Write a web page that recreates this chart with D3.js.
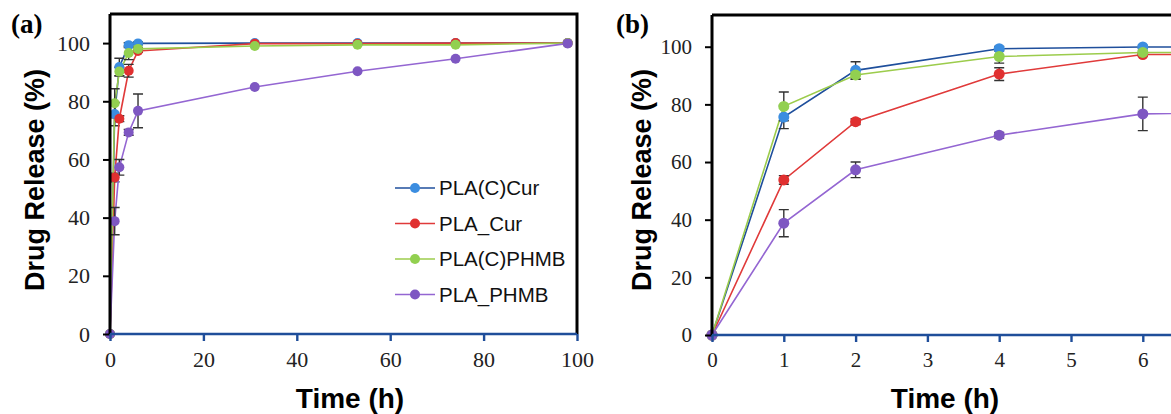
<!DOCTYPE html>
<html>
<head>
<meta charset="utf-8">
<script src="https://cdn.jsdelivr.net/npm/d3@7"></script>
<style>
  body { margin: 0; background: #fff; }
  svg { display: block; }
</style>
</head>
<body>
<div id="chart"></div>
<script>
// data
const times = [0, 1, 2, 4, 6, 31, 53, 74, 98]
const seriesNames = ["PLA(C)Cur", "PLA_Cur", "PLA(C)PHMB", "PLA_PHMB"]
const cCurValues = [0, 75.6, 91.8, 99.3, 99.9, 100, 100, 100, 100]
const curValues = [0, 53.8, 74.0, 90.5, 97.3, 99.8, 99.8, 100, 100]
const cPhmbValues = [0, 79.3, 90.2, 96.6, 98.0, 99.0, 99.4, 99.4, 100]
const phmbValues = [0, 38.8, 57.3, 69.3, 76.7, 84.9, 90.3, 94.6, 99.9]
const cCurErr = [0, 4.0, 3.0, 0.8, 0.5, 0, 0, 0, 0]
const curErr = [0, 1.5, 1.0, 2.2, 0.5, 0, 0, 0, 0]
const cPhmbErr = [0, 5.0, 1.5, 2.3, 0.5, 0, 0, 0, 0]
const phmbErr = [0, 4.7, 2.7, 1.0, 5.8, 0, 0, 0, 0]
const yTicks = [0, 20, 40, 60, 80, 100]
const xTicksA = [0, 20, 40, 60, 80, 100]
const xTicksB = [0, 1, 2, 3, 4, 5, 6]

const lineColors = ["#1f4f9c", "#e03a3a", "#9ccc4c", "#9466d2"]
const dotColors = ["#3b8de0", "#e03030", "#92d050", "#7e57c2"]

const allValues = [cCurValues, curValues, cPhmbValues, phmbValues]
const allErr = [cCurErr, curErr, cPhmbErr, phmbErr]

const data = seriesNames.map((name, i) => ({
    name: name,
    line: lineColors[i],
    dot: dotColors[i],
    points: times.map((t, j) => ({ t: t, v: allValues[i][j], e: allErr[i][j] }))
}))

const width = 1171
const height = 414
const serif = "'Liberation Serif', 'DejaVu Serif', serif"
const sans = "'Liberation Sans', Arial, sans-serif"

const svg = d3.select("#chart")
    .append("svg")
    .attr("width", width)
    .attr("height", height)

function drawPanel(cfg) {
    const x = d3.scaleLinear().domain(cfg.xDomain).range([cfg.left, cfg.right])
    const y = d3.scaleLinear().domain(cfg.yDomain).range([cfg.bottom, cfg.top])
    const g = svg.append("g")

    g.append("clipPath")
        .attr("id", cfg.id + "-clip")
        .append("rect")
        .attr("x", cfg.left - 8)
        .attr("y", cfg.top)
        .attr("width", cfg.right - cfg.left + 8)
        .attr("height", cfg.bottom - cfg.top + 8)

    // frame: top + right
    g.append("path")
        .attr("d", `M${cfg.left},${cfg.top}H${cfg.right}V${cfg.bottom}`)
        .attr("fill", "none")
        .attr("stroke", "#000")
        .attr("stroke-width", 3)

    const plot = g.append("g").attr("clip-path", `url(#${cfg.id}-clip)`)

    const line = d3.line()
        .x(d => x(d.t))
        .y(d => y(d.v))

    data.forEach(s => {
        plot.append("path")
            .datum(s.points)
            .attr("d", line)
            .attr("fill", "none")
            .attr("stroke", s.line)
            .attr("stroke-width", 1.6)

        const bars = s.points.filter(p => p.e > 0)
        plot.selectAll(null)
            .data(bars)
            .enter()
            .append("path")
            .attr("d", p => {
                const cx = x(p.t), y1 = y(p.v + p.e), y2 = y(p.v - p.e)
                return `M${cx},${y1}V${y2}M${cx - 5},${y1}H${cx + 5}M${cx - 5},${y2}H${cx + 5}`
            })
            .attr("stroke", "#333")
            .attr("stroke-width", 1.4)
            .attr("fill", "none")
    })

    data.forEach(s => {
        plot.selectAll(null)
            .data(s.points)
            .enter()
            .append("circle")
            .attr("cx", p => x(p.t))
            .attr("cy", p => y(p.v))
            .attr("r", cfg.r)
            .attr("fill", s.dot)
    })

    // y axis (black)
    const yAxis = g.append("g")
        .attr("transform", `translate(${cfg.left},0)`)
        .call(d3.axisLeft(y).tickValues(yTicks).tickFormat(d3.format("d")).tickSize(7).tickPadding(13))
    yAxis.select(".domain").attr("stroke", "#000").attr("stroke-width", 3)
        .attr("d", `M0,${cfg.top}V${cfg.bottom}`)
    yAxis.selectAll(".tick line").attr("stroke", "#000").attr("stroke-width", 2)
    yAxis.selectAll(".tick text")
        .style("font-family", serif)
        .style("font-size", cfg.tickSize + "px")
        .attr("fill", "#222")

    // x axis (blue)
    const xAxis = g.append("g")
        .attr("transform", `translate(0,${cfg.bottom})`)
        .call(d3.axisBottom(x).tickValues(cfg.xTicks).tickFormat(d3.format("d")).tickSize(7).tickPadding(10))
    xAxis.select(".domain").attr("stroke", "#1f4e9a").attr("stroke-width", 2.6)
        .attr("d", `M${cfg.left},0H${cfg.right}`)
    xAxis.selectAll(".tick line").attr("stroke", "#1f4e9a").attr("stroke-width", 2.4)
    xAxis.selectAll(".tick text")
        .style("font-family", serif)
        .style("font-size", cfg.tickSize + "px")
        .attr("fill", "#222")

    // titles
    g.append("text")
        .attr("x", cfg.xTitleX)
        .attr("y", 408)
        .attr("text-anchor", "middle")
        .style("font-family", sans)
        .style("font-weight", "bold")
        .style("font-size", "28px")
        .text("Time (h)")

    g.append("text")
        .attr("transform", `translate(${cfg.yTitleX},${cfg.yTitleY}) rotate(-90)`)
        .attr("text-anchor", "middle")
        .style("font-family", sans)
        .style("font-weight", "bold")
        .style("font-size", "27px")
        .text("Drug Release (%)")

    g.append("text")
        .attr("x", cfg.tagX)
        .attr("y", 33)
        .style("font-family", serif)
        .style("font-weight", "bold")
        .style("font-size", "27px")
        .text(cfg.tag)
}

drawPanel({
    id: "a", tag: "(a)", tagX: 11,
    left: 110, right: 577, top: 14, bottom: 334,
    xDomain: [0, 100], yDomain: [0, 110], xTicks: xTicksA, r: 5, tickSize: 22,
    xTitleX: 350, yTitleX: 44, yTitleY: 180
})

drawPanel({
    id: "b", tag: "(b)", tagX: 616,
    left: 712, right: 712 + 7 * 71.8, top: 15, bottom: 335,
    xDomain: [0, 7], yDomain: [0, 111], xTicks: xTicksB, r: 5.5, tickSize: 21,
    xTitleX: 945, yTitleX: 651, yTitleY: 180
})

// legend in panel (a)
const legend = svg.append("g")
    .selectAll("g")
    .data(data)
    .enter()
    .append("g")
    .attr("transform", (d, i) => `translate(395,${188 + i * 35.5})`)

legend.append("line")
    .attr("x1", 0).attr("x2", 40)
    .attr("stroke", d => d.line)
    .attr("stroke-width", 1.6)

legend.append("circle")
    .attr("cx", 20)
    .attr("r", 5)
    .attr("fill", d => d.dot)

legend.append("text")
    .attr("x", 44)
    .attr("dy", "0.36em")
    .style("font-family", sans)
    .style("font-size", "20.5px")
    .attr("fill", "#111")
    .text(d => d.name)
</script>
</body>
</html>
